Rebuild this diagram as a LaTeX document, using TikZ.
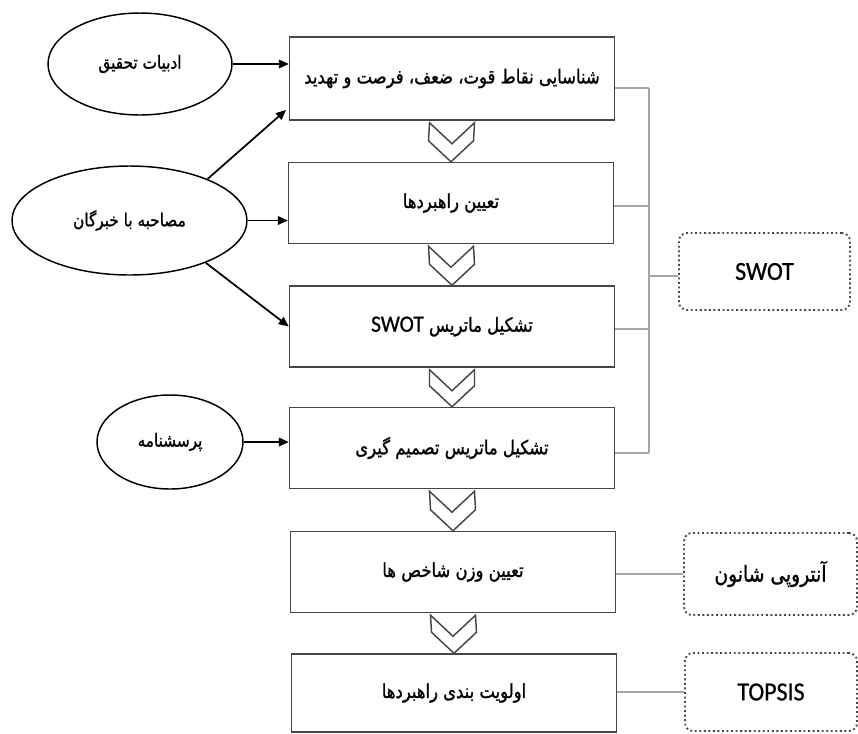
\documentclass[tikz,border=0pt]{standalone}
\usepackage{fontspec}
\setmainfont{Carlito}
\newfontfamily\fa[Script=Arabic, FakeStretch=0.85, FakeBold=1.2]{DejaVu Sans}
\newfontfamily\lat[FakeBold=0.8, FakeStretch=0.92]{Carlito}
\TeXXeTstate=1
\usetikzlibrary{shapes.geometric,arrows.meta,calc}
\definecolor{boxc}{RGB}{70,70,70}
\definecolor{linec}{RGB}{165,165,165}
\begin{document}
\begin{tikzpicture}[x=0.75pt,y=-0.75pt,
  stepbox/.style={draw=boxc, line width=1.1pt, minimum width=243.75pt, minimum height=60.75pt, inner sep=0pt, font=\fa\fontsize{14.5}{16}\selectfont},
  oval/.style={ellipse, draw=black, line width=1.1pt, inner sep=0pt, font=\fa\fontsize{13.5}{15}\selectfont},
  tool/.style={draw=boxc, dotted, line width=1.4pt, rounded corners=6pt, inner sep=0pt, font=\lat\fontsize{19.5}{22}\selectfont},
  arr/.style={-{Triangle[length=7.5pt,width=6.5pt]}, line width=1.3pt, draw=black},
  link/.style={draw=linec, line width=1pt},
  chev/.style={draw=boxc, line width=1.1pt, fill=white, line join=miter}
]
\useasboundingbox (0,0) rectangle (858,733);
% main steps
\node[stepbox, minimum height=62.25pt] (b1) at (452,78.5) {\beginR شناسایی نقاط قوت، ضعف، فرصت و تهدید\endR};
\node[stepbox] (b2) at (451,203) {\beginR تعیین راهبردها\endR};
\node[stepbox] (b3) at (452,326.5) {\beginR تشکیل ماتریس \beginL{\lat\fontsize{17.5}{19}\selectfont SWOT}\endL\endR};
\node[stepbox] (b4) at (452,448) {\beginR تشکیل ماتریس تصمیم گیری\endR};
\node[stepbox] (b5) at (453,572) {\beginR تعیین وزن شاخص ها\endR};
\node[stepbox, minimum height=58.5pt] (b6) at (454,693) {\beginR اولویت بندی راهبردها\endR};
% chevrons
\newcommand\chevron[2]{%
  \draw[chev] ($(#1.south)+(-22.5,2)$) -- ($(#1.south)+(0,23)$) -- ($(#1.south)+(22.5,2)$)
    -- ($(#2.north)+(22.5,-21)$) -- (#2.north) -- ($(#2.north)+(-22.5,-21)$) -- cycle;}
\chevron{b1}{b2}
\chevron{b2}{b3}
\chevron{b3}{b4}
\chevron{b4}{b5}
\chevron{b5}{b6}
% inputs
\node[oval, minimum width=138pt, minimum height=76.5pt] (e1) at (140,64) {\beginR ادبیات تحقیق\endR};
\node[oval, minimum width=176.25pt, minimum height=81.75pt] (e2) at (129.5,220.5) {\beginR مصاحبه با خبرگان\endR};
\node[oval, minimum width=109.5pt, minimum height=70.5pt] (e3) at (170,442) {\beginR پرسشنامه\endR};
\coordinate (t1) at (286,110);
\draw[arr] (e1.east) -- (e1.east -| b1.west);
\draw[arr] (e2.28) -- (t1);
\draw[arr] (e2.east) -- (e2.east -| b2.west);
\draw[arr] (e2.-29) -- (b3.west);
\draw[arr] (e3.east) -- (e3.east -| b4.west);
% tools
\node[tool, minimum width=128.25pt, minimum height=57.75pt] (swot) at (764.5,271.5) {SWOT};
\node[tool, minimum width=129.75pt, minimum height=61.5pt, font=\fa\fontsize{16.5}{18}\selectfont] (ent) at (770.5,574) {\beginR آنتروپی شانون\endR};
\node[tool, minimum width=129pt, minimum height=58.5pt] (tops) at (771,692) {TOPSIS};
% bracket
\coordinate (j1) at (649,88);
\coordinate (j2) at (649,206);
\coordinate (j3) at (649,329);
\coordinate (j4) at (649,453);
\draw[link] (b1.east |- j1) -- (j1);
\draw[link] (b2.east |- j2) -- (j2);
\draw[link] (b3.east |- j3) -- (j3);
\draw[link] (b4.east |- j4) -- (j4);
\draw[link] (j1) -- (j4);
\coordinate (js) at (649,276);
\draw[link] (js) -- (js -| swot.west);
\draw[link] (b5.east |- ent.west) -- (ent.west);
\draw[link] (b6.east |- tops.west) -- (tops.west);
\end{tikzpicture}
\end{document}
